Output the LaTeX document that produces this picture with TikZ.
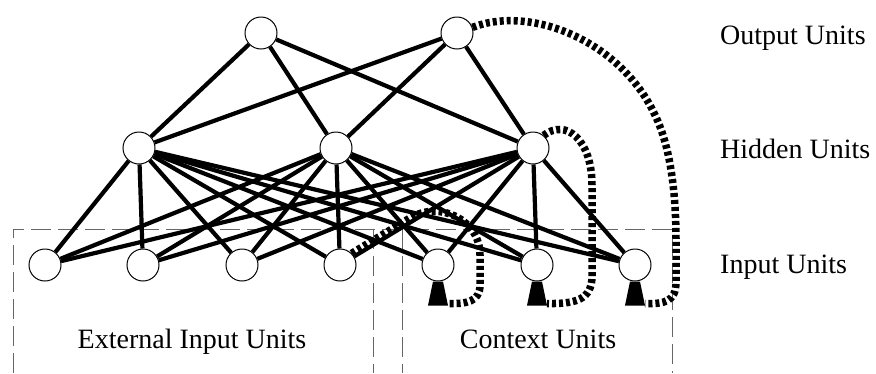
\documentclass[tikz,border=0pt]{standalone}
\usepackage{fontspec}
\setmainfont{Liberation Serif}
\usetikzlibrary{backgrounds}
\tikzset{
  unit/.style={circle, draw, fill=white, line width=1pt, minimum size=32pt, inner sep=0pt},
  link/.style={line width=4.2pt},
  recur/.style={line width=7.5pt, dash pattern=on 4pt off 3pt},
  frame/.style={draw=black!60, line width=1pt, dash pattern=on 20pt off 7pt},
  lbl/.style={font=\fontsize{28}{32}\selectfont, inner sep=0pt},
  copytip/.style={fill=black}
}
\begin{document}
\begin{tikzpicture}[x=1pt, y=-1pt]
\useasboundingbox (0,0) rectangle (876,373);

% output layer
\node[unit] (o1) at (261,33) {};
\node[unit] (o2) at (457,33) {};
% hidden layer
\node[unit] (h1) at (139,148) {};
\node[unit] (h2) at (336,148) {};
\node[unit] (h3) at (533,148) {};
% input layer: external inputs and context units
\node[unit] (i1) at (45,265) {};
\node[unit] (i2) at (143,265) {};
\node[unit] (i3) at (242,265) {};
\node[unit] (i4) at (340,265) {};
\node[unit] (i5) at (438,265) {};
\node[unit] (i6) at (537,265) {};
\node[unit] (i7) at (635,265) {};

% black feet under the context units
\foreach \n in {i5,i6,i7}{
  \fill[copytip] (\n.south) ++(-5,0) -- ++(10,0) -- ++(5,24) -- ++(-20,0) -- cycle;
  \coordinate (\n-tip) at ([xshift=10pt,yshift=-22pt]\n.south);
}

\begin{scope}[on background layer]
  % group frames
  \draw[frame] (13,373) -- (13,229) -- (672,229) -- (672,373);
  \draw[frame] (373,229) -- (373,373);
  \draw[frame] (402,229) -- (402,373);
  % full connections
  \foreach \o in {o1,o2}
    \foreach \h in {h1,h2,h3}
      \draw[link] (\o) -- (\h);
  \foreach \h in {h1,h2,h3}
    \foreach \i in {i1,i2,i3,i4,i5,i6,i7}
      \draw[link] (\h) -- (\i);
  % recurrent copy connections
  \draw[recur] (i4.45) -- (410,218) .. controls (440,200) and (480,220) .. (480,255)
     -- (480,285) .. controls (480,302) and (466,304) .. (i5-tip);
  \draw[recur] (h3.50) .. controls (566,118) and (592,140) .. (592,185)
     -- (592,276) .. controls (592,300) and (575,304) .. (i6-tip);
  \draw[recur] (o2.20) .. controls (530,5) and (620,40) .. (655,115)
     .. controls (672,150) and (676,200) .. (676,240)
     -- (676,282) .. controls (676,302) and (664,304) .. (i7-tip);
\end{scope}

% labels
\node[lbl, anchor=base west] (lo) at (720,44) {Output Units};
\node[lbl, anchor=base west] (lh) at (720,158) {Hidden Units};
\node[lbl, anchor=base west] (li) at (720,273) {Input Units};
\node[lbl, anchor=base] (le) at (192,348) {External Input Units};
\node[lbl, anchor=base] (lc) at (538,348) {Context Units};
\end{tikzpicture}
\end{document}
